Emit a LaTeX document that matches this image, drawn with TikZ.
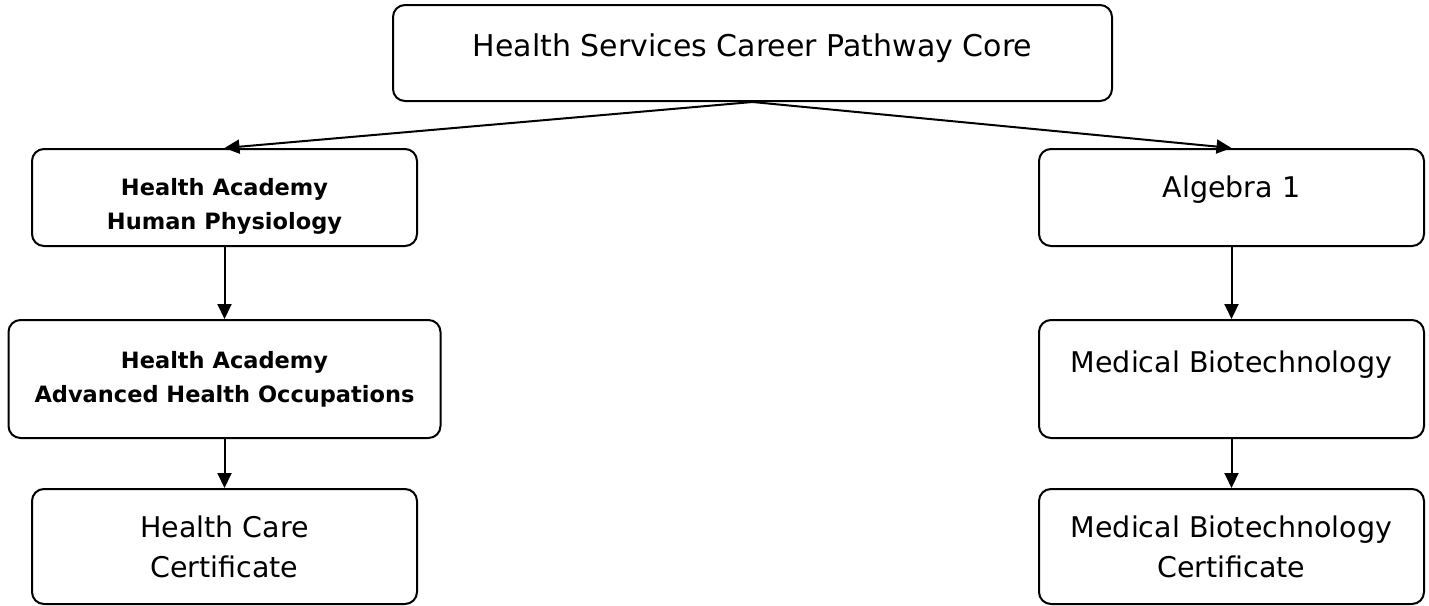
\documentclass[tikz,border=0pt]{standalone}
\usepackage{fontspec}
\setmainfont{DejaVu Sans}
\usepackage{tikz}
\usetikzlibrary{arrows.meta}
\usetikzlibrary{positioning}

\newcommand{\plaintext}{\fontsize{28.5}{40}\selectfont}
\newcommand{\boldtext}{\fontsize{22.5}{34}\selectfont\bfseries}

\tikzset{
  stage/.style={draw,line width=2pt,rounded corners=12pt,align=center,inner sep=0pt,font=\plaintext},
  course/.style={stage,font=\boldtext},
  link/.style={-{Triangle[length=15pt,width=14pt]},line width=2pt}
}

\begin{document}
\begin{tikzpicture}[x=1pt,y=-1pt]
\useasboundingbox (0,0) rectangle (1429,605);

\node[stage,font=\fontsize{30}{40}\selectfont,minimum width=719pt,minimum height=96pt,text height=23pt,text depth=17pt] (core) at (752.5,53) {Health Services Career Pathway Core};

% left column
\node[course,minimum width=385pt,minimum height=97pt] (physiology) at (224.5,197.5) {\rule{0pt}{34pt}Health Academy\\Human Physiology};
\node[course,minimum width=432pt,minimum height=118pt,below=72pt of physiology] (occupations) {Health Academy\\Advanced Health Occupations};
\node[stage,minimum width=385pt,minimum height=115pt,below=49pt of occupations] (carecert) {Health Care\\Certificate};

% right column
\node[stage,minimum width=385pt,minimum height=97pt,text height=22pt,text depth=22pt] (algebra) at (1231.5,197.5) {Algebra 1};
\node[stage,minimum width=385pt,minimum height=118pt,text height=22pt,text depth=36pt,below=72pt of algebra] (biotech) {Medical Biotechnology};
\node[stage,minimum width=385pt,minimum height=115pt,below=49pt of biotech] (biocert) {Medical Biotechnology\\Certificate};

\draw[link] (core.south) -- (physiology.north);
\draw[link] (core.south) -- (algebra.north);
\draw[link] (physiology) -- (occupations);
\draw[link] (occupations) -- (carecert);
\draw[link] (algebra) -- (biotech);
\draw[link] (biotech) -- (biocert);
\end{tikzpicture}
\end{document}
